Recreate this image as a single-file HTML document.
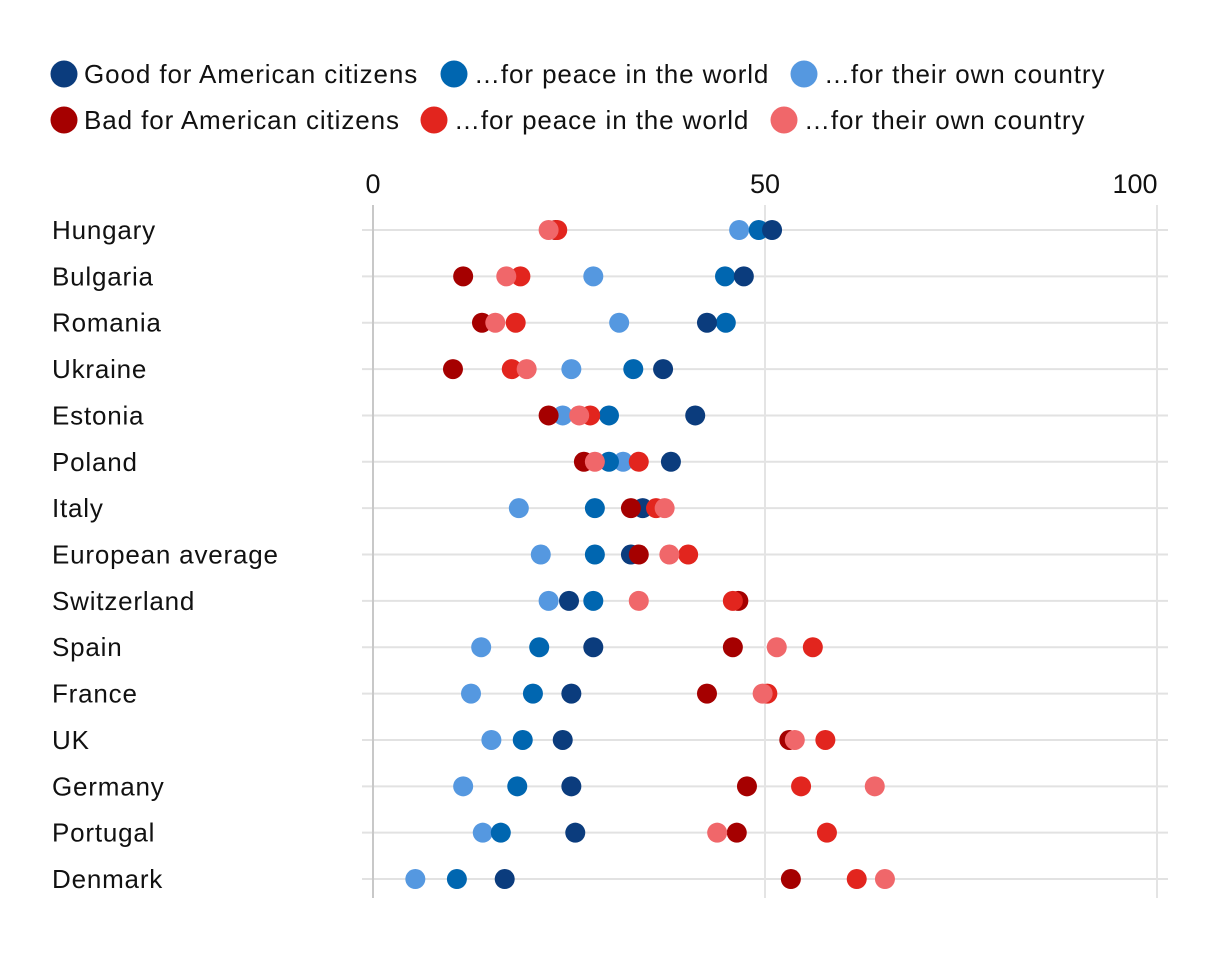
<!DOCTYPE html>
<html><head><meta charset="utf-8"><style>
body{margin:0;background:#fff;font-family:"Liberation Sans",sans-serif;}
svg text{font-family:"Liberation Sans",sans-serif;fill:#111;}
</style></head><body>
<svg id="c" width="1220" height="950"></svg>
<script>
const countries=["Hungary","Bulgaria","Romania","Ukraine","Estonia","Poland","Italy","European average","Switzerland","Spain","France","UK","Germany","Portugal","Denmark"];
const goodCitizens=[50.9,47.3,42.6,37.0,41.1,38.0,34.4,32.9,25.0,28.1,25.3,24.2,25.3,25.8,16.8];
const goodPeace=[49.2,44.9,45.0,33.2,30.1,30.1,28.3,28.3,28.1,21.2,20.4,19.1,18.4,16.3,10.7];
const goodOwn=[46.7,28.1,31.4,25.3,24.2,31.9,18.6,21.4,22.4,13.8,12.5,15.1,11.5,14.0,5.4];
const badCitizens=[23.3,11.5,13.9,10.2,22.4,26.9,32.9,33.9,46.6,45.9,42.6,53.1,47.7,46.4,53.3];
const badPeace=[23.5,18.8,18.2,17.7,27.7,33.9,36.1,40.2,45.9,56.1,50.3,57.7,54.6,57.9,61.7];
const badOwn=[22.4,17.0,15.6,19.6,26.3,28.3,37.2,37.8,33.9,51.5,49.7,53.8,64.0,43.9,65.3];
const ticks=[0,50,100];
const seriesNames=["Good for American citizens","…for peace in the world","…for their own country","Bad for American citizens","…for peace in the world","…for their own country"];
const colors=["#0b3c7d","#0066b0","#5598e0","#a50000","#e2251e","#f0676a"];

const NS="http://www.w3.org/2000/svg";
const svg=document.getElementById('c');
const x=v=>373+v*7.84;
const y=i=>230+i*46.36;
function el(t,a,p){const e=document.createElementNS(NS,t);for(const k in a)e.setAttribute(k,a[k]);(p||svg).appendChild(e);return e;}

const legX=[[50,440,790],[50,420,770]];
seriesNames.forEach((n,i)=>{
  const r=Math.floor(i/3),c=i%3;
  const g=el('g',{});
  
  
  el('circle',{cx:legX[r][c]+14,cy:74+r*46,r:13.5,fill:colors[i]},g);
  const t=el('text',{x:legX[r][c]+34,y:83+r*46,'font-size':26,'letter-spacing':'0.9'},g);t.textContent=n;
});

countries.forEach((c,i)=>{
  const l=el('line',{x1:362,x2:1168,y1:y(i),y2:y(i),stroke:'#e2e2e2','stroke-width':2});
  
  
  const t=el('text',{x:52,y:y(i)+9,'font-size':26,'letter-spacing':'0.8'});
  
  
  t.textContent=c;
});
ticks.forEach(v=>{
  const l=el('line',{x1:x(v),x2:x(v),y1:205,y2:898,stroke:v===0?'#c8c8c8':'#e4e4e4','stroke-width':2});
  
  
  const t=el('text',{x:x(v)-(v===100?22:0),y:193,'font-size':27,'text-anchor':'middle'});
  
  
  t.textContent=v;
});

const order=[[goodOwn,2],[goodPeace,1],[goodCitizens,0],[badCitizens,3],[badPeace,4],[badOwn,5]];
order.forEach(([arr,ci])=>{
  arr.forEach((v,i)=>{
    const d=el('circle',{cx:x(v),cy:y(i),r:10,fill:colors[ci]});
    
    
  });
});
</script>
</body></html>
